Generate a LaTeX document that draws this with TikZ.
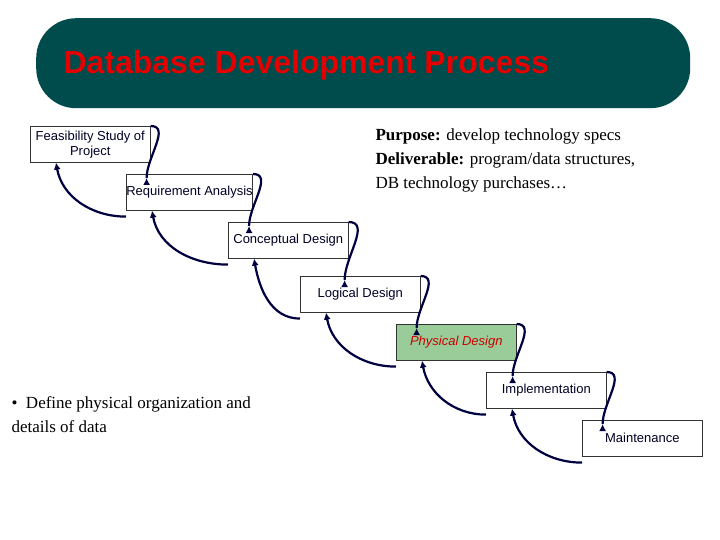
\documentclass[tikz,border=0pt]{standalone}
\usepackage{fontspec}
\setmainfont{Liberation Serif}
\newfontfamily\arial{Liberation Sans}
\begin{document}
\begin{tikzpicture}[x=1pt,y=-1pt,
  stage/.style={draw=black!80,line width=0.6pt,minimum width=120pt,minimum height=36pt,inner sep=0pt,font=\arial\fontsize{13}{15}\selectfont,text=black!85!blue,align=center},
  arr/.style={draw=black!75!blue,line width=2.2pt,-{Latex[length=7pt,width=7pt]}}]
\usetikzlibrary{arrows.meta}
\useasboundingbox (0,0) rectangle (720,540);
\fill[white] (0,0) rectangle (720,540);
\node[fill=teal!80!black,fill=black!40!teal,rounded corners=40pt,minimum width=654pt,minimum height=90pt,inner sep=0pt,anchor=north west] (title) at (36,18) {};
\node[anchor=west,font=\arial\bfseries\fontsize{32}{36}\selectfont,text=red!90!black] (tt) at (60,65) {Database Development Process};
\node[stage,anchor=north west] (f) at (30,126) {Feasibility Study of\\Project};
\node[stage,anchor=north west] (r) at (126,174) {Requirement Analysis};
\node[stage,anchor=north west] (c) at (228,222) {Conceptual Design};
\node[stage,anchor=north west] (l) at (300,276) {Logical Design};
\node[stage,anchor=north west,fill=green!40!gray!60!white,fill={rgb,255:red,153;green,204;blue,153},text=red!80!black,font=\arial\itshape\fontsize{13}{15}\selectfont] (p) at (396,324) {Physical Design};
\node[stage,anchor=north west] (i) at (486,372) {Implementation};
\node[stage,anchor=north west] (m) at (582,420) {Maintenance};
\foreach \a/\b in {f/r,r/c,c/l,l/p,p/i,i/m}{
  \draw[arr] (\a.north east) to[out=0,in=90] ([xshift=-4pt,yshift=-4pt]\b.north west -| \a.north east) ++(0,0);
}
\foreach \a/\b in {r/f,c/r,l/c,p/l,i/p,m/i}{
  \draw[arr] ([yshift=-6pt]\a.south west) to[out=180,in=-80] ([xshift=26pt]\b.south west);
}
\node[anchor=north west,align=left,font=\fontsize{17}{24}\selectfont] (purp) at (372,125) {\textbf{Purpose:} develop technology specs\\\textbf{Deliverable:} program/data structures,\\DB technology purchases\ldots};
\node[anchor=north west,align=left,font=\fontsize{17}{24}\selectfont] (bul) at (8,393) {\textbullet{} \ Define physical organization and\\details of data};
\end{tikzpicture}
\end{document}
